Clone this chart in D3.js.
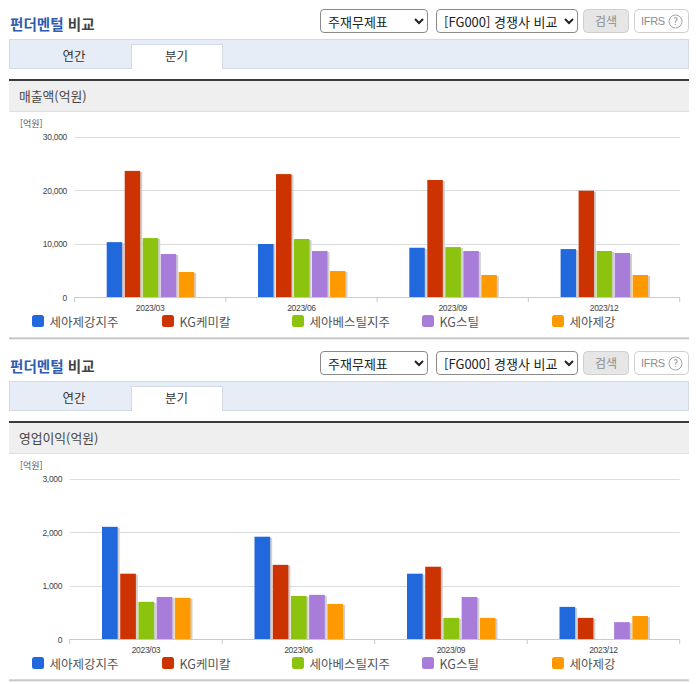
<!DOCTYPE html>
<html lang="ko">
<head>
<meta charset="UTF-8" />
<title>펀더멘털 비교</title>
<script src="https://unpkg.com/d3@7/dist/d3.min.js"></script>
<style>
  html, body { margin: 0; padding: 0; background: #fff; }
  body { width: 696px; height: 684px; overflow: hidden; position: relative;
         font-family: "Noto Sans CJK KR", "Noto Sans", sans-serif; }
  #stage { position: absolute; left: 0; top: 0; }
  select { position: absolute; height: 24px; box-sizing: border-box; font: 13px "Noto Sans CJK KR", sans-serif;
           color: #222; background: #fff; border: 1px solid #8a8a8a; border-radius: 4px; padding: 0 2px 0 3px; }
  .num { font-family: "Liberation Sans", Arial, sans-serif; font-size: 8.5px; letter-spacing: -0.3px; }
</style>
</head>
<body>
<svg id="stage" width="696" height="684"></svg>
<script>
const periods = ["2023/03", "2023/06", "2023/09", "2023/12"];
const companies = ["세아제강지주", "KG케미칼", "세아베스틸지주", "KG스틸", "세아제강"];
const colors = ["#2168dd", "#cc3300", "#8cc30e", "#a87cd9", "#ff9900"];

const salesValues = [
  [10300, 23600, 11060, 8080, 4720],
  [9950, 23000, 10880, 8640, 4900],
  [9250, 21900, 9380, 8640, 4160],
  [9000, 19900, 8640, 8270, 4160]
];
const profitValues = [
  [2100, 1225, 700, 790, 775],
  [1915, 1390, 810, 830, 660],
  [1225, 1355, 400, 790, 400],
  [605, 400, 5, 320, 435]
];
const salesTicks = [0, 10000, 20000, 30000];
const profitTicks = [0, 1000, 2000, 3000];
const legendX = [32, 162, 292, 422, 552];

const svg = d3.select("#stage");

function drawPanel(top, metric, values, ticks, axisLeft, groupWidth) {
  const g = svg.append("g").attr("transform", `translate(0,${top})`);

  // title
  const title = g.append("text").attr("x", 10).attr("y", 29.5)
    .style("font-size", "14.6px").style("font-weight", 700);
  title.append("tspan").attr("fill", "#2f5cb0").text("펀더멘털");
  title.append("tspan").attr("fill", "#444").text(" 비교");

  // selects and buttons
  const select1 = d3.select("body").append("select")
    .style("left", "320px").style("top", (top + 9) + "px").style("width", "108px");
  select1.append("option").text("주재무제표");
  const select2 = d3.select("body").append("select")
    .style("left", "436px").style("top", (top + 9) + "px").style("width", "142px");
  select2.append("option").text("[FG000] 경쟁사 비교");

  g.append("rect").attr("x", 583.5).attr("y", 9.5).attr("width", 45).attr("height", 23).attr("rx", 4)
    .attr("fill", "#e6e6e6").attr("stroke", "#cfcfcf");
  g.append("text").attr("x", 606).attr("y", 26).attr("text-anchor", "middle")
    .attr("fill", "#8d8d8d").style("font-size", "12px").text("검색");
  g.append("rect").attr("x", 634.5).attr("y", 9.5).attr("width", 54).attr("height", 23).attr("rx", 4)
    .attr("fill", "#fff").attr("stroke", "#cfcfcf");
  g.append("text").attr("x", 641).attr("y", 25).attr("fill", "#8d8d8d")
    .style("font-family", "Liberation Sans").style("font-size", "11px").style("letter-spacing", "-0.3px").text("IFRS");
  g.append("circle").attr("cx", 675.5).attr("cy", 21.5).attr("r", 6.5)
    .attr("fill", "none").attr("stroke", "#a5a5a5");
  g.append("text").attr("x", 675.5).attr("y", 25).attr("text-anchor", "middle").attr("fill", "#8d8d8d")
    .style("font-size", "10px").text("?");

  // tabs
  g.append("rect").attr("x", 9.5).attr("y", 39.5).attr("width", 679).attr("height", 29)
    .attr("fill", "#e6edf7").attr("stroke", "#d3dae6");
  g.append("path").attr("d", "M131.5,69V44.5H222.5V69").attr("fill", "#fff").attr("stroke", "#d3dae6");
  g.append("rect").attr("x", 132).attr("y", 67).attr("width", 90).attr("height", 3).attr("fill", "#fff");
  g.append("text").attr("x", 74).attr("y", 60.5).attr("text-anchor", "middle").attr("fill", "#333")
    .style("font-size", "12.5px").text("연간");
  g.append("text").attr("x", 176.5).attr("y", 60.5).attr("text-anchor", "middle").attr("fill", "#333")
    .style("font-size", "12.5px").text("분기");

  // metric header
  g.append("rect").attr("x", 9).attr("y", 81).attr("width", 680).attr("height", 30).attr("fill", "#efefef");
  g.append("rect").attr("x", 9).attr("y", 79).attr("width", 680).attr("height", 2).attr("fill", "#3b3b3b");
  g.append("rect").attr("x", 9).attr("y", 111).attr("width", 680).attr("height", 1).attr("fill", "#dedede");
  g.append("text").attr("x", 19).attr("y", 101).attr("fill", "#444")
    .style("font-size", "12.8px").text(metric);

  // chart
  const x = d3.scaleBand().domain(periods).range([axisLeft, 679.7]);
  const inner = d3.scaleBand().domain(d3.range(companies.length)).range([0, groupWidth])
    .paddingInner(0.14).paddingOuter(0);
  const y = d3.scaleLinear().domain([0, ticks[ticks.length - 1]]).range([297.3, 136.6]);

  g.append("text").attr("x", 20).attr("y", 127).attr("fill", "#555")
    .style("font-size", "9px").text("[억원]");

  g.append("g").selectAll("line").data(ticks.slice(1)).join("line")
    .attr("x1", axisLeft).attr("x2", 679.7)
    .attr("y1", d => Math.round(y(d)) + 0.5).attr("y2", d => Math.round(y(d)) + 0.5)
    .attr("stroke", "#dcdcdc");

  g.append("g").selectAll("text").data(ticks).join("text")
    .attr("class", "num")
    .attr("x", axisLeft - 7.5).attr("y", d => y(d) + 3.5).attr("text-anchor", "end")
    .attr("fill", "#444").text(d3.format(","));

  const groups = g.append("g").selectAll("g").data(periods).join("g")
    .attr("transform", d => `translate(${x(d) + x.bandwidth() / 2 - groupWidth / 2 + 0.3},0)`);

  groups.each(function (period, i) {
    const rows = values[i].map((v, k) => ({ v, k }));
    d3.select(this).selectAll(".shadow").data(rows).join("rect").attr("class", "shadow")
      .attr("x", d => inner(d.k) + 2).attr("y", d => y(d.v) + 1)
      .attr("width", inner.bandwidth()).attr("height", d => 297.3 - y(d.v) - 1).attr("fill", "#cfcfcf");
    d3.select(this).selectAll(".bar").data(rows).join("rect").attr("class", "bar")
      .attr("x", d => inner(d.k)).attr("y", d => y(d.v))
      .attr("width", inner.bandwidth()).attr("height", d => 297.3 - y(d.v)).attr("fill", d => colors[d.k]);
  });

  // x axis
  const axis = g.append("g");
  axis.append("line").attr("x1", axisLeft).attr("x2", 679.7).attr("y1", 297.5).attr("y2", 297.5).attr("stroke", "#c2cbd8");
  axis.selectAll(".tick").data(periods.concat("end")).join("line").attr("class", "tick")
    .attr("x1", (d, i) => axisLeft + i * x.bandwidth()).attr("x2", (d, i) => axisLeft + i * x.bandwidth())
    .attr("y1", 297).attr("y2", 302).attr("stroke", "#c2cbd8");
  axis.selectAll(".label").data(periods).join("text").attr("class", "label num")
    .attr("x", d => x(d) + x.bandwidth() / 2).attr("y", 310.5).attr("text-anchor", "middle")
    .attr("fill", "#444").text(d => d);

  // legend
  const items = g.append("g").selectAll("g").data(companies).join("g")
    .attr("transform", (d, i) => `translate(${legendX[i]},315)`);
  items.append("rect").attr("width", 12).attr("height", 12).attr("rx", 2.5)
    .attr("fill", (d, i) => colors[i]);
  items.append("text").attr("x", 17.5).attr("y", 12).attr("fill", "#555")
    .style("font-size", "12.5px").text(d => d);

  g.append("rect").attr("x", 9).attr("y", 337.3).attr("width", 680).attr("height", 2).attr("fill", "#c8c8c8");
}

drawPanel(0, "매출액(억원)", salesValues, salesTicks, 74.5, 87.5);
drawPanel(342, "영업이익(억원)", profitValues, profitTicks, 69.7, 88.5);
</script>
</body>
</html>
